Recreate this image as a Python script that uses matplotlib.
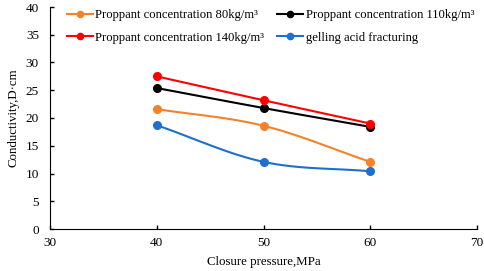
import numpy as np
import matplotlib
matplotlib.use("Agg")
import matplotlib.pyplot as plt
from matplotlib.lines import Line2D

pressure = [40, 50, 60]
c80 = [21.6, 18.6, 12.1]
c110 = [25.4, 21.8, 18.4]
c140 = [27.5, 23.2, 19.0]
gel = [18.7, 12.1, 10.4]
labels = ["Proppant concentration 80kg/m³", "Proppant concentration 110kg/m³",
          "Proppant concentration 140kg/m³", "gelling acid fracturing"]
colors = ["#f5822a", "#000000", "#ff0000", "#1f6fd1"]

plt.rcParams['font.family'] = ['Liberation Serif', 'DejaVu Serif']

def smooth(x, y, n=40):
    # Catmull-Rom style smoothing similar to Excel smoothed lines
    x = np.asarray(x, float); y = np.asarray(y, float)
    px = np.concatenate([[2*x[0]-x[1]], x, [2*x[-1]-x[-2]]])
    py = np.concatenate([[2*y[0]-y[1]], y, [2*y[-1]-y[-2]]])
    xs, ys = [], []
    for i in range(1, len(px)-2):
        t = np.linspace(0, 1, n)
        p0, p1, p2, p3 = (np.array([px[j], py[j]]) for j in range(i-1, i+3))
        t2, t3 = t*t, t*t*t
        pts = 0.5*((2*p1)[:, None] + (-p0+p2)[:, None]*t + (2*p0-5*p1+4*p2-p3)[:, None]*t2
                   + (-p0+3*p1-3*p2+p3)[:, None]*t3)
        xs.extend(pts[0]); ys.extend(pts[1])
    return xs, ys

fig = plt.figure(figsize=(4.84, 2.71), dpi=100)
ax = fig.add_axes([50/484, 42/271, 427/484, 222/271])

series = [c80, c110, c140, gel]
handles = []
for ys, col, lab in zip(series, colors, labels):
    sx, sy = smooth(pressure, ys)
    ax.plot(sx, sy, color=col, lw=1.5)
    ax.plot(pressure, ys, 'o', color=col, ms=5.5)
    handles.append(Line2D([], [], color=col, lw=1.5, marker='o', ms=4.5, label=lab))

ax.set_xlim(30, 70)
ax.set_ylim(0, 40)
ax.set_xticks([30, 40, 50, 60, 70])
ax.set_yticks(range(0, 41, 5))
ax.spines['top'].set_visible(False)
ax.spines['right'].set_visible(False)
ax.tick_params(direction='in', length=3, labelsize=9.5, width=1)
ax.tick_params(axis='x', pad=6)
ax.tick_params(axis='y', pad=8)
ax.set_xlabel("Closure pressure,MPa", fontsize=9.3, labelpad=5)
ax.set_ylabel("Conductivity,D·cm", fontsize=9.3, labelpad=4)

order = [0, 2, 1, 3]
fig.legend(handles=[handles[i] for i in order], ncol=2, frameon=False, fontsize=9.1,
           loc='upper left', bbox_to_anchor=(67/484, 1 - 9/271), borderpad=0,
           borderaxespad=0, handlelength=2.05, columnspacing=1.0,
           handletextpad=0.2, labelspacing=0.85)

fig.savefig("out.png", dpi=100)
